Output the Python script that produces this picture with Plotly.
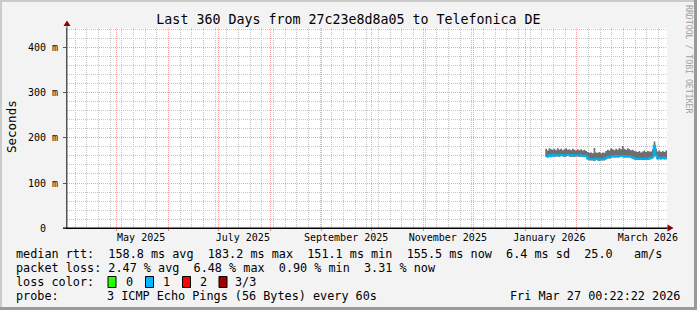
import plotly.graph_objects as go
import pandas as pd

# ---------------- data ----------------
title_text = "Last 360 Days from 27c23e8d8a05 to Telefonica DE"
range_start = "2025-04-01 00:22:22"
range_end = "2026-03-27 00:22:22"
data_start = "2026-01-13 00:00"

median_ms = [161, 159, 162, 160, 163, 161, 162,
             162, 161, 163, 162, 161, 162, 163,
             162, 161, 162, 161, 162, 162, 161,
             162, 161, 160, 161, 155, 153, 153,
             153, 152, 154, 153, 152, 153, 153,
             153, 156, 158, 157, 159, 160, 159,
             160, 159, 160, 161, 160, 159, 160,
             159, 160, 158, 157, 155, 154, 153,
             154, 153, 154, 154, 153, 154, 155,
             156, 158, 183, 162, 155, 156, 155,
             157, 155, 156, 155]
smoke_max_ms = [176, 172, 177, 175, 174, 176, 173,
                177, 174, 176, 173, 175, 177, 174,
                175, 173, 176, 174, 172, 175, 173,
                175, 172, 174, 171, 169, 167, 168,
                166, 178, 168, 167, 169, 166, 168,
                167, 171, 174, 172, 177, 175, 173,
                176, 174, 178, 175, 182, 176, 174,
                177, 175, 173, 174, 171, 170, 169,
                171, 168, 170, 172, 169, 171, 170,
                170, 175, 192, 176, 170, 172, 169,
                171, 169, 172, 170]
smoke_min_ms = [158, 156, 159, 157, 160, 158, 159,
                159, 158, 160, 159, 158, 159, 160,
                159, 158, 159, 158, 159, 159, 158,
                159, 158, 157, 158, 152, 150, 150,
                150, 149, 151, 150, 149, 150, 150,
                150, 153, 155, 154, 156, 157, 156,
                157, 156, 157, 158, 157, 156, 157,
                156, 157, 155, 154, 152, 151, 151,
                151, 151, 151, 151, 151, 151, 152,
                153, 155, 165, 158, 152, 153, 152,
                154, 152, 153, 152]

y_tickvals = [0, 100, 200, 300, 400]
y_ticktext = ["0\u00a0\u00a0", "100 m", "200 m", "300 m", "400 m"]
month_starts = ["2025-05-01", "2025-06-01", "2025-07-01", "2025-08-01", "2025-09-01",
                "2025-10-01", "2025-11-01", "2025-12-01", "2026-01-01", "2026-02-01",
                "2026-03-01"]
label_dates = ["2025-05-15 12:00", "2025-07-15 12:00", "2025-09-15 12:00",
               "2025-11-15 12:00", "2026-01-15 12:00", "2026-03-15 12:00"]
label_texts = ["May 2025", "July 2025", "September 2025", "November 2025",
               "January 2026", "March 2026"]

legend_row1 = "median rtt:  158.8 ms avg  183.2 ms max  151.1 ms min  155.5 ms now  6.4 ms sd  25.0   am/s"
legend_row2 = "packet loss: 2.47 % avg  6.48 % max  0.90 % min  3.31 % now"
legend_row3 = "loss color:"
loss_labels = ["0", "1", "2", "3/3"]
loss_colors = ["#26ff00", "#00b8ff", "#ff0000", "#a00000"]
legend_row4a = "probe:"
legend_row4b = "3 ICMP Echo Pings (56 Bytes) every 60s"
timestamp = "Fri Mar 27 00:22:22 2026"
watermark = "RRDTOOL / TOBI OETIKER"
y_title = "Seconds"

# ---------------- geometry helpers ----------------
W, H = 697, 310
L, R, T, B = 67, 30, 28, 82
PW, PH = W - L - R, H - T - B


def fx(px):
    return (px - L) / PW


def fy(py):
    return (T + PH - py) / PH


nb = lambda s: s.replace(" ", "\u00a0")
MONO = "DejaVu Sans Mono"

times = pd.date_range(data_start, periods=len(median_ms), freq="D")

fig = go.Figure()
fig.add_trace(go.Scatter(x=times, y=smoke_min_ms, mode="lines", line=dict(width=0, shape="hv"),
                         hoverinfo="skip", showlegend=False))
fig.add_trace(go.Scatter(x=times, y=smoke_max_ms, mode="lines", line=dict(width=0, shape="hv"),
                         fill="tonexty", fillcolor="#6e6e6e", hoverinfo="skip", showlegend=False))
fig.add_trace(go.Scatter(x=times, y=median_ms, mode="lines",
                         line=dict(width=1.8, color="#00b0f0", shape="hv"), showlegend=False))
# invisible trace on label axis
fig.add_trace(go.Scatter(x=[range_start], y=[None], xaxis="x2", showlegend=False, hoverinfo="skip"))

weekly = pd.date_range("2025-04-06", "2026-03-27", freq="7D")

fig.update_layout(
    width=W, height=H,
    margin=dict(l=L, r=R, t=T, b=B),
    paper_bgcolor="#f3f3f3", plot_bgcolor="#ffffff",
    font=dict(family=MONO, color="#000000", size=10),
    title=dict(text=title_text, x=0.5, xanchor="center", y=1 - 19 / H, yanchor="middle",
               yref="container", font=dict(family=MONO, size=13.3, color="#000")),
    xaxis=dict(type="date", range=[range_start, range_end], tickvals=month_starts,
               showticklabels=False, showgrid=True, gridcolor="#f4a4a4", griddash="1px,1px",
               gridwidth=1, ticks="outside", ticklen=2, tickcolor="#e88080",
               minor=dict(tickvals=list(weekly), showgrid=True, gridcolor="#c4c4c4",
                          griddash="1px,1px", ticks=""),
               showline=True, linecolor="#000000", linewidth=1, zeroline=False),
    xaxis2=dict(type="date", range=[range_start, range_end], overlaying="x", anchor="y",
                side="bottom", tickvals=label_dates, ticktext=label_texts, showgrid=False,
                ticks="", showline=False, zeroline=False, ticklabelstandoff=2,
                tickfont=dict(family=MONO, size=10, color="#000")),
    yaxis=dict(range=[0, 444.4], tickvals=y_tickvals, ticktext=y_ticktext,
               showgrid=True, gridcolor="#f4a4a4", griddash="1px,1px", gridwidth=1,
               ticks="outside", ticklen=3, tickcolor="#555", ticklabelstandoff=3,
               minor=dict(dtick=20, showgrid=True, gridcolor="#c4c4c4", griddash="1px,1px",
                          ticks=""),
               showline=True, linecolor="#555555", linewidth=1, zeroline=False,
               tickfont=dict(family=MONO, size=10, color="#000")),
    showlegend=False,
)

shapes = []
# axis extensions and arrows
shapes.append(dict(type="line", xref="paper", yref="paper", x0=fx(67), x1=fx(67),
                   y0=fy(228), y1=fy(24), line=dict(color="#555555", width=1)))
shapes.append(dict(type="line", xref="paper", yref="paper", x0=fx(63), x1=fx(670),
                   y0=fy(228), y1=fy(228), line=dict(color="#000000", width=1)))
shapes.append(dict(type="path", xref="paper", yref="paper",
                   path=f"M {fx(63.5)} {fy(26)} L {fx(70.5)} {fy(26)} L {fx(67)} {fy(20.5)} Z",
                   fillcolor="#900000", line=dict(width=0)))
shapes.append(dict(type="path", xref="paper", yref="paper",
                   path=f"M {fx(667.5)} {fy(224.5)} L {fx(667.5)} {fy(231.5)} L {fx(673.5)} {fy(228)} Z",
                   fillcolor="#900000", line=dict(width=0)))
# frame shading
shapes.append(dict(type="rect", xref="paper", yref="paper", x0=fx(0), x1=fx(W), y0=fy(0), y1=fy(2),
                   fillcolor="#cbcbcb", line=dict(width=0)))
shapes.append(dict(type="rect", xref="paper", yref="paper", x0=fx(0), x1=fx(2), y0=fy(0), y1=fy(H),
                   fillcolor="#cbcbcb", line=dict(width=0)))
shapes.append(dict(type="rect", xref="paper", yref="paper", x0=fx(0), x1=fx(W), y0=fy(H - 3), y1=fy(H),
                   fillcolor="#9a9a9a", line=dict(width=0)))
shapes.append(dict(type="rect", xref="paper", yref="paper", x0=fx(W - 3), x1=fx(W), y0=fy(0), y1=fy(H),
                   fillcolor="#9a9a9a", line=dict(width=0)))
# loss colour boxes
box_x = [108, 145.5, 182.5, 219]
for bx, col in zip(box_x, loss_colors):
    shapes.append(dict(type="rect", xref="paper", yref="paper", x0=fx(bx), x1=fx(bx + 8),
                       y0=fy(276.5), y1=fy(287.5), fillcolor=col, line=dict(color="#000", width=1)))
fig.update_layout(shapes=shapes)

ann = []
LF = dict(family=MONO, size=11.8, color="#000")


def add_text(text, px, py, anchor="left", font=LF, angle=0):
    ann.append(dict(text=nb(text), x=fx(px), y=fy(py), xref="paper", yref="paper",
                    xanchor=anchor, yanchor="middle", showarrow=False, font=font,
                    textangle=angle, borderpad=0))


add_text(legend_row1, 15, 254)
add_text(legend_row2, 15, 268)
add_text(legend_row3, 15, 282)
label_x = [124.5, 161.5, 198.5, 234]
for lx, lt in zip(label_x, loss_labels):
    add_text(lt, lx, 282)
add_text(legend_row4a, 15, 296)
add_text(legend_row4b, 106, 296)
add_text(timestamp, 681, 296, anchor="right")
ann.append(dict(text=y_title, x=fx(11), y=fy(127), xref="paper", yref="paper",
                xanchor="center", yanchor="middle", showarrow=False, textangle=-90,
                font=dict(family=MONO, size=12.5, color="#000")))
ann.append(dict(text=nb(watermark), x=fx(689), y=fy(59), xref="paper", yref="paper",
                xanchor="center", yanchor="middle", showarrow=False, textangle=90,
                font=dict(family=MONO, size=8.2, color="#a0a0a0")))
fig.update_layout(annotations=ann)

fig.write_html("out.html")
